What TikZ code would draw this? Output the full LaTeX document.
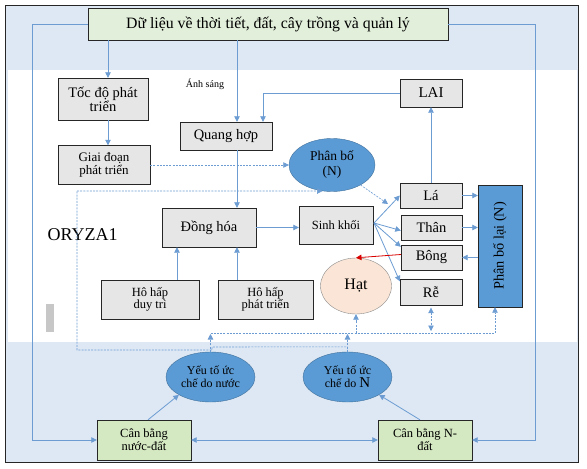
\documentclass[tikz,border=0pt]{standalone}
\usepackage{fontspec}
\setmainfont{Liberation Serif}
\usetikzlibrary{arrows.meta,positioning,calc,shapes.geometric}

\definecolor{bandblue}{HTML}{DEE8F4}
\definecolor{boxgray}{HTML}{E7E6E6}
\definecolor{topgreen}{HTML}{E2EFDA}
\definecolor{lowgreen}{HTML}{D4E8C1}
\definecolor{ellblue}{HTML}{5B9BD5}
\definecolor{ellrim}{HTML}{41719C}
\definecolor{linkblue}{HTML}{6C9CD2}
\definecolor{seedpink}{HTML}{FBE5D6}

\newcommand{\fsz}[2]{\fontsize{#1}{#2}\selectfont}

\tikzset{
  box/.style={draw=black!85, fill=boxgray, align=center, inner sep=0pt, font=\fsz{14.5}{14}},
  smallbox/.style={box, font=\fsz{12.5}{12}},
  greenbox/.style={draw=black!85, fill=lowgreen, align=center, inner sep=0pt, font=\fsz{12.5}{13}},
  blueell/.style={ellipse, draw=ellrim, fill=ellblue, align=center, inner sep=0pt, font=\fsz{12}{13}},
  link/.style={draw=linkblue, line width=0.8pt, -{Triangle[width=5.5pt,length=5.5pt]}},
  dlink/.style={draw=linkblue, line width=0.6pt, dash pattern=on 2pt off 1.2pt, -{Triangle[width=5.5pt,length=5.5pt]}},
  dline/.style={draw=linkblue, line width=0.6pt, dash pattern=on 2pt off 1.2pt}
}

\begin{document}
\begin{tikzpicture}[x=1pt,y=-1pt]
  \useasboundingbox (0,0) rectangle (587,469);
  % bands
  \fill[bandblue] (5,5) rectangle (578,462);
  \fill[white] (8,70) rectangle (577,342);
  \draw[black!85, line width=0.8pt] (5,5) rectangle (578,462);
  \fill[black!22] (46,304) rectangle (54,332);

  % nodes
  \node[draw=black!85, fill=topgreen, minimum width=360pt, minimum height=32pt, font=\fsz{15.8}{16}] (data) at (268,24) {Dữ liệu về thời tiết, đất, cây trồng và quản lý};
  \node[box, minimum width=90pt, minimum height=42pt] (toc) at (103,99) {Tốc độ phát\\triển};
  \node[smallbox, minimum width=92pt, minimum height=39pt, font=\fsz{13}{13}] (giai) at (104,165) {Giai đoạn\\phát triển};
  \node[box, minimum width=92pt, minimum height=28pt] (quang) at (226,136) {Quang hợp};
  \node[box, minimum width=62pt, minimum height=28pt, font=\fsz{15}{15}] (lai) at (431,93) {LAI};
  \node[blueell, minimum width=86pt, minimum height=53pt, font=\fsz{13.5}{15}] (pbn) at (332,165) {Phân bố\\(N)};
  \node[box, minimum width=94pt, minimum height=39pt] (dong) at (209,227.5) {Đồng hóa};
  \node[smallbox, minimum width=74pt, minimum height=38pt] (sinh) at (336,225) {Sinh khối};
  \node[box, minimum width=62pt, minimum height=25pt] (la) at (431,195.5) {Lá};
  \node[box, minimum width=61pt, minimum height=25pt] (than) at (431.5,227.5) {Thân};
  \node[box, minimum width=61pt, minimum height=25pt] (bong) at (431.5,257.5) {Bông};
  \node[box, minimum width=62pt, minimum height=26pt] (re) at (431,292.5) {Rễ};
  \node[draw=black!85, fill=ellblue, minimum width=44pt, minimum height=122pt, inner sep=0pt] (pbl) at (500,246) {};
  \node[rotate=90, font=\fsz{14.3}{15}] at (pbl.center) {Phân bố lại (N)};
  \node[ellipse, draw=black!45, fill=seedpink, minimum width=71pt, minimum height=56pt, inner sep=0pt, font=\fsz{16}{16}] (hat) at (356,286) {Hạt};
  \node[smallbox, minimum width=98pt, minimum height=39pt] (hhdt) at (150,299.5) {Hô hấp\\duy trì};
  \node[smallbox, minimum width=95pt, minimum height=39pt] (hhpt) at (265.5,299.5) {Hô hấp\\phát triển};
  \node[blueell, minimum width=89pt, minimum height=50pt] (ywat) at (210.5,377) {Yếu tố ức\\chế do nước};
  \node[blueell, minimum width=89pt, minimum height=50pt] (yn) at (347.5,377) {Yếu tố ức\\chế do {\fsz{15}{13}N}};
  \node[greenbox, minimum width=94pt, minimum height=40pt] (cbw) at (144,440) {Cân bằng\\nước-đất};
  \node[greenbox, minimum width=94pt, minimum height=40pt] (cbn) at (425,440) {Cân bằng N-\\đất};
  \node[font=\fsz{18}{18}, anchor=west] (oryza) at (44,235) {ORYZA1};
  \node[font=\fsz{10}{10}] (light) at (205,84) {Ánh sáng};

  % solid links
  \draw[link] (data.west) -- (32,24) |- (cbw.west);
  \draw[link] (data.east) -- (535,24) |- (cbn.east);
  \draw[link] ([xshift=5pt]toc.north |- data.south) -- ([xshift=5pt]toc.north);
  \draw[link] ([xshift=5pt]toc.south) -- ([xshift=5pt]toc.south |- giai.north);
  \draw[link] ([xshift=11pt]quang.north |- data.south) -- ([xshift=11pt]quang.north);
  \draw[link] (lai.west) -| ([xshift=37pt]quang.north);
  \draw[link] (la.north) -- (lai.south);
  \draw[link] ([xshift=11pt]quang.south) -- ([xshift=11pt]quang.south |- dong.north);
  \draw[link] ([xshift=27pt]hhdt.north) -- ([xshift=27pt]hhdt.north |- dong.south);
  \draw[link] ([xshift=-28.5pt]hhpt.north) -- ([xshift=-28.5pt]hhpt.north |- dong.south);
  \draw[link] (dong.east) -- (dong.east -| sinh.west);
  \coordinate (fan) at (374,223);
  \draw[link] (fan) -- (la.west);
  \draw[link] (fan) -- ([yshift=-3pt]than.west);
  \draw[link] (fan) -- ([yshift=-2pt]bong.north west);
  \draw[link] (fan) -- ([yshift=-2pt]re.north west);
  \draw[link] (la.east) -- (la.east -| pbl.west);
  \draw[link] (than.east) -- (than.east -| pbl.west);
  \draw[link] (pbl.west |- bong.east) -- (bong.east);
  \draw[link, draw=red!85!black] ([yshift=3pt]bong.west) -- (hat.north);
  \draw[link, {Triangle[width=5.5pt,length=5.5pt]}-{Triangle[width=5.5pt,length=5.5pt]}] (cbw.east) -- (cbn.west);
  \draw[link] ([xshift=4pt]cbw.north) -- (ywat.south west);
  \draw[link] ([xshift=-5pt]cbn.north) -- (yn.south east);

  % dashed links
  \coordinate (bus) at (210,333);
  \coordinate (busend) at (495,333);
  \coordinate (pbnend) at (388,204);
  \draw[dlink] (giai.east) -- (pbn.west);
  \draw[dlink] (pbn.-35) -- (pbnend);
  \draw[dline] (ywat.north |- bus) -- (busend);
  \draw[dlink] (ywat.north) -- ([yshift=-1pt]ywat.north |- bus);
  \draw[dlink] (yn.north) -- ([yshift=-1pt]yn.north |- bus);
  \draw[dline] (yn.north) -- ++(0,-5) -- (212,347) -- (212,350) -- (77,350) -- (77,191);
  \draw[dlink] (77,191) -- (pbn.250);
  \draw[dlink] (hat.south |- bus) -- (hat.south);
  \draw[dlink, {Triangle[width=5.5pt,length=5.5pt]}-{Triangle[width=5.5pt,length=5.5pt]}] ([yshift=-2pt]re.south) -- ([yshift=2pt]re.south |- bus);
  \draw[dlink] ([xshift=-5pt]pbl.south |- bus) -- ([xshift=-5pt]pbl.south);
\end{tikzpicture}
\end{document}
